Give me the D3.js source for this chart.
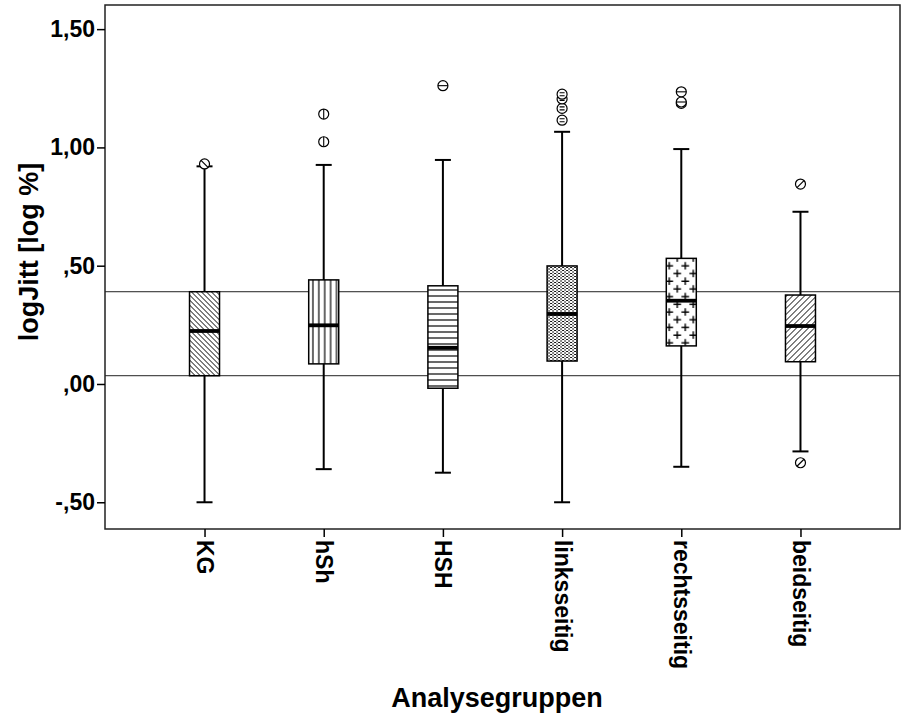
<!DOCTYPE html>
<html>
<head>
<meta charset="utf-8">
<script src="https://cdn.jsdelivr.net/npm/d3@7"></script>
<style>
  html, body { margin: 0; padding: 0; background: #fff; }
  svg { display: block; font-family: "Liberation Sans", Arial, sans-serif; }
</style>
</head>
<body>
<svg id="chart" width="902" height="716"></svg>
<script>
// Box plot of logJitt per analysis group
const categories   = ["KG", "hSh", "HSH", "linksseitig", "rechtsseitig", "beidseitig"];
const lowerWhisker = [-0.50, -0.36, -0.375, -0.50, -0.35, -0.285];
const q1           = [0.035, 0.085, -0.018, 0.097, 0.161, 0.094];
const median       = [0.224, 0.248, 0.153, 0.296, 0.352, 0.245];
const q3           = [0.390, 0.440, 0.415, 0.499, 0.531, 0.376];
const upperWhisker = [0.920, 0.926, 0.947, 1.066, 0.993, 0.728];
const outliers     = [[0.93], [1.024, 1.141], [1.261], [1.115, 1.165, 1.205, 1.225], [1.186, 1.192, 1.235], [-0.333, 0.845]];
const patterns     = ["back", "vert", "horiz", "dots", "plus", "fwd"];
const yTicks       = [-0.5, 0, 0.5, 1.0, 1.5];
const yTickLabels  = ["-,50", ",00", ",50", "1,00", "1,50"];
// reference lines at the KG quartiles
const refLines     = [q3[0], q1[0]];

const svg = d3.select("#chart");
const plot = { left: 105, right: 900, top: 5, bottom: 529 };

const x = d3.scalePoint().domain(categories).range([plot.left, plot.right]).padding(0.835);
const y = d3.scaleLinear().domain([-0.613, 1.602]).range([plot.bottom, plot.top]);

// fill patterns
const defs = svg.append("defs");
function pat(id, w, h, draw) {
  const p = defs.append("pattern").attr("id", id).attr("patternUnits", "userSpaceOnUse")
    .attr("width", w).attr("height", h);
  p.append("rect").attr("width", w).attr("height", h).attr("fill", "#fff");
  draw(p);
}
pat("back", 5, 5, p => p.append("path").attr("d", "M0,0L5,5M-1,4L1,6M4,-1L6,1").attr("stroke", "#000").attr("stroke-width", 1));
pat("fwd", 6, 6, p => p.append("path").attr("d", "M0,6L6,0M-1,1L1,-1M5,7L7,5").attr("stroke", "#000").attr("stroke-width", 1));
pat("vert", 5.9, 10, p => p.append("path").attr("d", "M1,0V10").attr("stroke", "#000").attr("stroke-width", 1.2));
pat("horiz", 10, 6, p => p.append("path").attr("d", "M0,2H10").attr("stroke", "#444").attr("stroke-width", 1.6));
pat("dots", 4, 3, p => {
  p.append("rect").attr("x", 0).attr("y", 0).attr("width", 2).attr("height", 1).attr("fill", "#111");
  p.append("rect").attr("x", 2).attr("y", 1.5).attr("width", 2).attr("height", 1).attr("fill", "#111");
});
pat("plus", 16, 15.4, p => {
  p.append("path").attr("d", "M4,0.2V7.8M0.2,4H7.8M12,7.9V15.5M8.2,11.7H15.8").attr("stroke", "#000").attr("stroke-width", 1.4);
});

// plot frame
svg.append("rect").attr("x", plot.left).attr("y", plot.top)
  .attr("width", plot.right - plot.left).attr("height", plot.bottom - plot.top)
  .attr("fill", "none").attr("stroke", "#222").attr("stroke-width", 1.5);

// horizontal reference lines
svg.selectAll("line.ref").data(refLines).join("line").attr("class", "ref")
  .attr("x1", plot.left).attr("x2", plot.right)
  .attr("y1", d => y(d)).attr("y2", d => y(d))
  .attr("stroke", "#222").attr("stroke-width", 1);

// y axis
const yAxis = d3.axisLeft(y).tickValues(yTicks).tickSize(8).tickPadding(2)
  .tickFormat((d, i) => yTickLabels[i]);
const gy = svg.append("g").attr("transform", `translate(${plot.left},0)`).call(yAxis);
gy.select(".domain").remove();
gy.selectAll(".tick line").attr("stroke", "#000").attr("stroke-width", 1.5);
gy.selectAll(".tick text").attr("font-size", 23).attr("font-weight", "bold").attr("fill", "#000");

// x axis
const xAxis = d3.axisBottom(x).tickSize(8).tickPadding(4);
const gx = svg.append("g").attr("transform", `translate(0,${plot.bottom})`).call(xAxis);
gx.select(".domain").remove();
gx.selectAll(".tick line").attr("stroke", "#000").attr("stroke-width", 1.5);
gx.selectAll(".tick text")
  .attr("font-size", 23).attr("font-weight", "bold").attr("fill", "#000")
  .attr("text-anchor", "start").attr("dy", null)
  .attr("dominant-baseline", "central")
  .attr("transform", "translate(0,11) rotate(90)")
  .attr("y", 0).attr("x", 0);

// axis titles
svg.append("text").attr("transform", "translate(29,252) rotate(-90)")
  .attr("text-anchor", "middle").attr("dominant-baseline", "central")
  .attr("font-size", 27).attr("font-weight", "bold").text("logJitt [log %]");
svg.append("text").attr("x", 497).attr("y", 698)
  .attr("text-anchor", "middle").attr("dominant-baseline", "central")
  .attr("font-size", 27).attr("font-weight", "bold").text("Analysegruppen");

// boxes
const boxW = 30, capW = 16;
const groups = svg.selectAll("g.box").data(categories).join("g").attr("class", "box")
  .attr("transform", d => `translate(${x(d)},0)`);

groups.append("line").attr("y1", (d, i) => y(lowerWhisker[i])).attr("y2", (d, i) => y(upperWhisker[i]))
  .attr("stroke", "#000").attr("stroke-width", 2);
groups.append("line").attr("x1", -capW / 2).attr("x2", capW / 2)
  .attr("y1", (d, i) => y(upperWhisker[i])).attr("y2", (d, i) => y(upperWhisker[i]))
  .attr("stroke", "#000").attr("stroke-width", 2);
groups.append("line").attr("x1", -capW / 2).attr("x2", capW / 2)
  .attr("y1", (d, i) => y(lowerWhisker[i])).attr("y2", (d, i) => y(lowerWhisker[i]))
  .attr("stroke", "#000").attr("stroke-width", 2);
groups.append("rect").attr("x", -boxW / 2).attr("width", boxW)
  .attr("y", (d, i) => y(q3[i])).attr("height", (d, i) => y(q1[i]) - y(q3[i]))
  .attr("fill", (d, i) => `url(#${patterns[i]})`)
  .attr("stroke", "#000").attr("stroke-width", 1.5);
groups.append("line").attr("x1", -boxW / 2).attr("x2", boxW / 2)
  .attr("y1", (d, i) => y(median[i])).attr("y2", (d, i) => y(median[i]))
  .attr("stroke", "#000").attr("stroke-width", 3.8);

// outliers: circles marked with the group's hatch direction
const r = 5;
const inner = {
  back: `M${-r * 0.7},${-r * 0.7}L${r * 0.7},${r * 0.7}`,
  fwd: `M${-r * 0.7},${r * 0.7}L${r * 0.7},${-r * 0.7}`,
  vert: `M0,${-r}V${r}`,
  horiz: `M${-r},0H${r}`,
  dots: `M${-r * 0.5},${-r * 0.3}H${r * 0.5}M${-r * 0.5},${r * 0.3}H${r * 0.5}`,
  plus: `M${-r},0H${r}`
};
groups.each(function (d, i) {
  const g = d3.select(this);
  const pts = g.selectAll("g.out").data(outliers[i]).join("g").attr("class", "out")
    .attr("transform", v => `translate(0,${y(v)})`);
  const p = patterns[i];
  pts.append("circle").attr("r", r)
    .attr("fill", "#fff")
    .attr("stroke", "#000").attr("stroke-width", 1.2);
  pts.append("path").attr("d", inner[p]).attr("stroke", "#000").attr("stroke-width", 1.1);
});
</script>
</body>
</html>
